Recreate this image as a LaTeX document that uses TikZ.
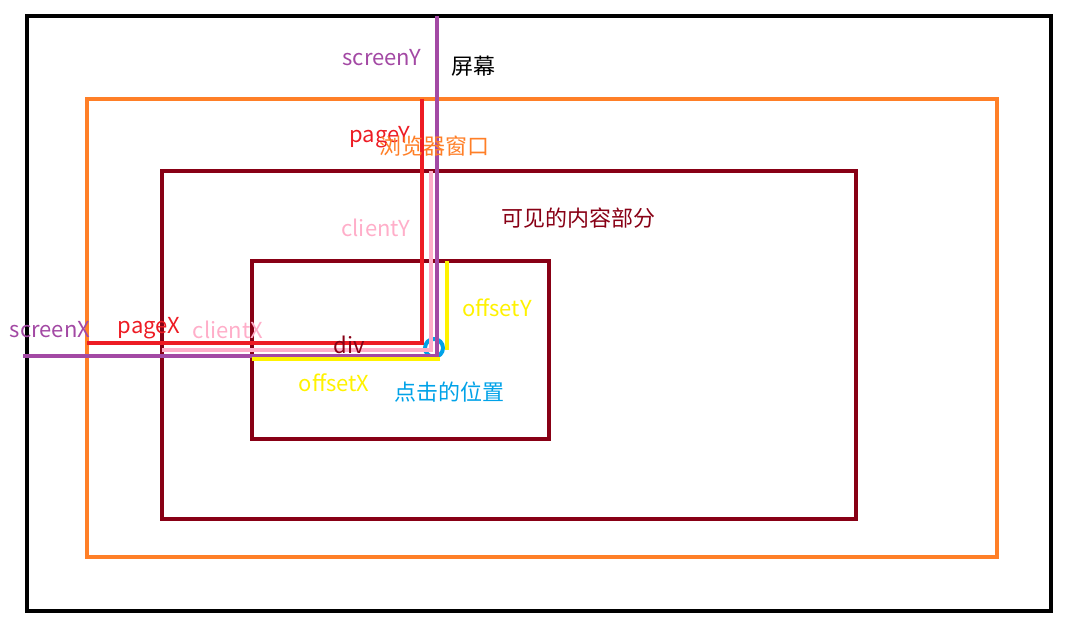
\documentclass[tikz,border=0pt]{standalone}
\usepackage{fontspec}
\setmainfont{Noto Sans CJK SC}
\usetikzlibrary{calc}
\definecolor{paintorange}{RGB}{255,127,39}
\definecolor{paintdark}{RGB}{136,0,21}
\definecolor{paintred}{RGB}{237,28,36}
\definecolor{paintpurple}{RGB}{163,73,164}
\definecolor{paintpink}{RGB}{255,174,201}
\definecolor{paintyellow}{RGB}{255,242,0}
\definecolor{paintblue}{RGB}{0,162,232}
\tikzset{
  frame/.style={draw,line width=4pt,minimum width=#1,outer sep=0pt,inner sep=0pt},
  coordline/.style={line width=4pt,#1},
  lbl/.style={font=\fontsize{22}{25}\selectfont,inner sep=0pt}
}
\begin{document}
\begin{tikzpicture}[x=1pt,y=-1pt]
\useasboundingbox (0,0) rectangle (1072,628);
% boxes
\node[frame=1024pt,minimum height=595pt,black] (screen) at (539,313.5) {};
\node[frame=910pt,minimum height=458pt,paintorange] (browser) at (542,328) {};
\node[frame=694pt,minimum height=348pt,paintdark,line width=3.5pt] (content) at (509,345) {};
\node[frame=297pt,minimum height=178pt,paintdark,line width=3.5pt] (divbox) at (400.5,350) {};
% click point
\node[circle,draw=paintblue,line width=4pt,minimum size=18pt,inner sep=0pt] (click) at (434,348) {};
% corner points of the coordinate lines
\coordinate (sY) at (437,356);
\coordinate (pY) at (422,343);
\coordinate (cY) at (431,350);
\coordinate (oY) at (447,359);
\draw[coordline=paintpurple] (sY |- screen.north) -- (sY) -- (23,356);
\draw[coordline=paintred] (pY |- browser.north) -- (pY) -- (pY -| browser.west);
\draw[coordline=paintpink] (cY |- content.north) -- (cY) -- (cY -| content.west);
\draw[coordline=paintyellow] (oY |- divbox.north) -- (447,350);
\draw[coordline=paintyellow] (440,359) -- (oY -| divbox.west);
% labels
\node[lbl,text=paintpurple] (screenYlbl) at (382,58) {screenY};
\node[lbl,text=black] (screenlbl) at (473,66) {屏幕};
\node[lbl,text=paintred] (pageYlbl) at (380,137) {pageY};
\node[lbl,text=paintorange] (browserlbl) at (434,146) {浏览器窗口};
\node[lbl,text=paintdark] (contentlbl) at (578,218) {可见的内容部分};
\node[lbl,text=paintpink] (clientYlbl) at (376,228) {clientY};
\node[lbl,text=paintyellow] (offsetYlbl) at (497,308) {offsetY};
\node[lbl,text=paintpurple] (screenXlbl) at (50,330) {screenX};
\node[lbl,text=paintred] (pageXlbl) at (149,328) {pageX};
\node[lbl,text=paintpink] (clientXlbl) at (228,330) {clientX};
\node[lbl,text=paintdark] (divlbl) at (349,345) {div};
\node[lbl,text=paintyellow] (offsetXlbl) at (334,383) {offsetX};
\node[lbl,text=paintblue] (clicklbl) at (449,392) {点击的位置};
\end{tikzpicture}
\end{document}
